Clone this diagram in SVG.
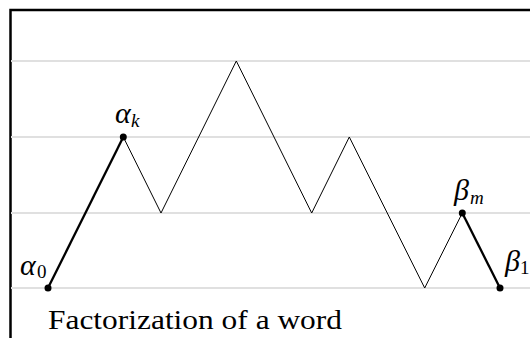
<svg xmlns="http://www.w3.org/2000/svg" width="530" height="338" viewBox="0 0 530 338">
<style>
.grid{stroke:#e0e0e0;stroke-width:2;fill:none}
.thin{stroke:#000;stroke-width:1;fill:none;stroke-linejoin:miter}
.thick{stroke:#000;stroke-width:2.3;fill:none}
.lbl{font-family:"Liberation Serif",serif;font-style:italic;font-size:30px;fill:#000}
.subi{font-family:"Liberation Serif",serif;font-style:italic;font-size:19px;fill:#000}
.sub{font-family:"Liberation Serif",serif;font-size:19px;fill:#000}
.cap{font-family:"Liberation Serif",serif;font-size:27px;fill:#000}
</style>
<rect x="0" y="0" width="530" height="338" fill="#fff"/>
<g id="frame">
<path d="M10.5 338 V10 H530" stroke="#000" stroke-width="2.5" fill="none"/>
</g>
<g id="grid">
<line class="grid" x1="11" y1="61" x2="530" y2="61"/>
<line class="grid" x1="11" y1="137" x2="530" y2="137"/>
<line class="grid" x1="11" y1="213" x2="530" y2="213"/>
<line class="grid" x1="11" y1="288" x2="530" y2="288"/>
</g>
<g id="connectors">
<polyline class="thin" points="123.3,137 161,213 236.3,61 311.7,213 349.3,137 424.7,288 462.3,213"/>
<line class="thick" x1="48" y1="288" x2="123.3" y2="137"/>
<line class="thick" x1="462.3" y1="213" x2="500" y2="288"/>
</g>
<g id="alpha0">
<circle cx="48" cy="288" r="3.5"/>
<text class="lbl" x="20" y="275">α</text>
<text class="sub" x="37" y="278">0</text>
</g>
<g id="alphak">
<circle cx="123.3" cy="137" r="3.5"/>
<text class="lbl" x="115" y="123">α</text>
<text class="subi" x="131" y="127">k</text>
</g>
<g id="betam">
<circle cx="462.3" cy="213" r="3.5"/>
<text class="lbl" x="454" y="200">β</text>
<text class="subi" x="470" y="204">m</text>
</g>
<g id="beta1">
<circle cx="500" cy="288" r="3.5"/>
<text class="lbl" x="505" y="271">β</text>
<text class="sub" x="520" y="274">1</text>
</g>
<g id="caption">
<text class="cap" x="48" y="329" textLength="294" lengthAdjust="spacingAndGlyphs">Factorization of a word</text>
</g>
</svg>
